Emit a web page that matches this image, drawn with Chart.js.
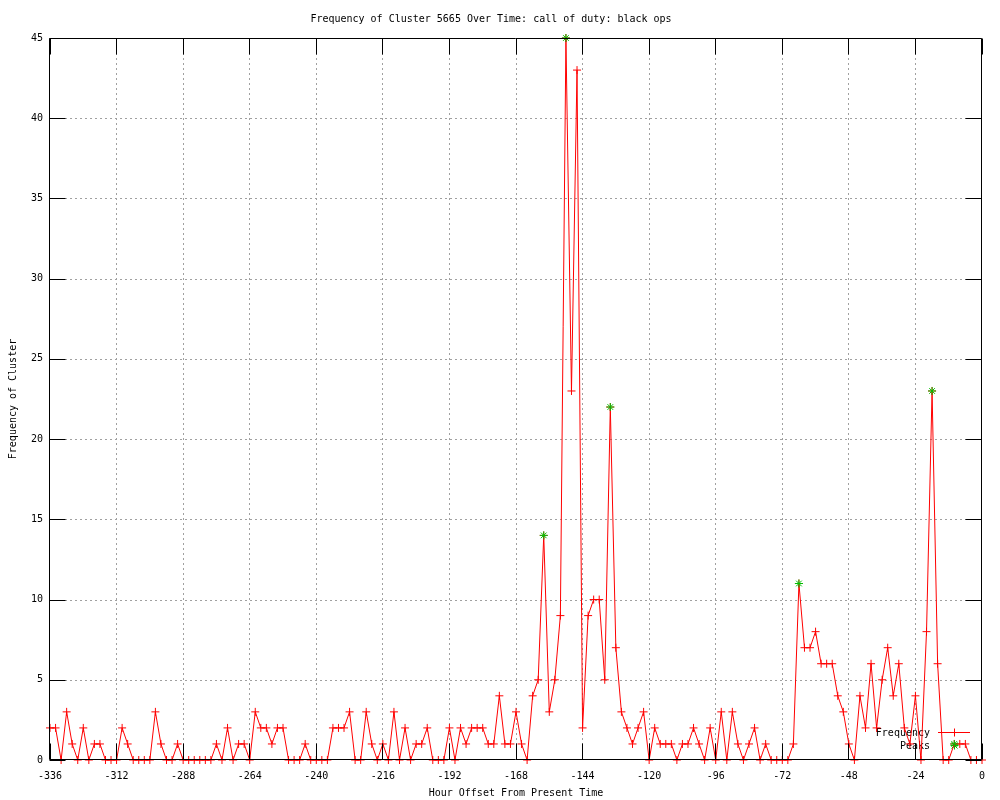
<!DOCTYPE html>
<html><head><meta charset="utf-8">
<script src="https://cdn.jsdelivr.net/npm/chart.js@4"></script>
<style>html,body{margin:0;padding:0;background:#fff}canvas{display:block}</style>
</head><body>
<canvas id="c" width="1000" height="800"></canvas>
<script>
const hours = [
  -336,-334,-332,-330,-328,-326,-324,-322,-320,-318,-316,-314,
  -312,-310,-308,-306,-304,-302,-300,-298,-296,-294,-292,-290,
  -288,-286,-284,-282,-280,-278,-276,-274,-272,-270,-268,-266,
  -264,-262,-260,-258,-256,-254,-252,-250,-248,-246,-244,-242,
  -240,-238,-236,-234,-232,-230,-228,-226,-224,-222,-220,-218,
  -216,-214,-212,-210,-208,-206,-204,-202,-200,-198,-196,-194,
  -192,-190,-188,-186,-184,-182,-180,-178,-176,-174,-172,-170,
  -168,-166,-164,-162,-160,-158,-156,-154,-152,-150,-148,-146,
  -144,-142,-140,-138,-136,-134,-132,-130,-128,-126,-124,-122,
  -120,-118,-116,-114,-112,-110,-108,-106,-104,-102,-100,-98,
  -96,-94,-92,-90,-88,-86,-84,-82,-80,-78,-76,-74,
  -72,-70,-68,-66,-64,-62,-60,-58,-56,-54,-52,-50,
  -48,-46,-44,-42,-40,-38,-36,-34,-32,-30,-28,-26,
  -24,-22,-20,-18,-16,-14,-12,-10,-8,-6,-4,-2,
  0
];
const frequency = [
  2,2,0,3,1,0,2,0,1,1,0,0,
  0,2,1,0,0,0,0,3,1,0,0,1,
  0,0,0,0,0,0,1,0,2,0,1,1,
  0,3,2,2,1,2,2,0,0,0,1,0,
  0,0,0,2,2,2,3,0,0,3,1,0,
  1,0,3,0,2,0,1,1,2,0,0,0,
  2,0,2,1,2,2,2,1,1,4,1,1,
  3,1,0,4,5,14,3,5,9,45,23,43,
  2,9,10,10,5,22,7,3,2,1,2,3,
  0,2,1,1,1,0,1,1,2,1,0,2,
  0,3,0,3,1,0,1,2,0,1,0,0,
  0,0,1,11,7,7,8,6,6,6,4,3,
  1,0,4,2,6,2,5,7,4,6,2,1,
  4,0,8,23,6,0,0,1,1,1,0,0,
  0
];
const peakHours = [-158, -150, -134, -66, -18, -10];
const peakValues = [14, 45, 22, 11, 23, 1];
const xTickValues = [-336,-312,-288,-264,-240,-216,-192,-168,-144,-120,-96,-72,-48,-24,0];
const yTickValues = [0,5,10,15,20,25,30,35,40,45];

const titleText = 'Frequency of Cluster 5665 Over Time: call of duty: black ops';
const xTitle = 'Hour Offset From Present Time';
const yTitle = 'Frequency of Cluster';
const legendLabels = ['Frequency', 'Peaks'];

const RED = '#ff0000';
const GREEN = '#00c000';
const FONT = {family: 'DejaVu Sans Mono', size: 10, weight: 'normal', lineHeight: 1.2};
Chart.defaults.color = '#000';

function cross(ctx, x, y, r) {
  ctx.moveTo(x - r, y); ctx.lineTo(x + r, y);
  ctx.moveTo(x, y - r); ctx.lineTo(x, y + r);
}
function star(ctx, x, y, r) {
  cross(ctx, x, y, r);
  const d = r * 0.75;
  ctx.moveTo(x - d, y - d); ctx.lineTo(x + d, y + d);
  ctx.moveTo(x - d, y + d); ctx.lineTo(x + d, y - d);
}

const framePlugin = {
  id: 'frame',
  beforeDatasetsDraw(chart) {
    const {ctx, chartArea: a, scales: {x, y}} = chart;
    ctx.save();
    ctx.strokeStyle = '#a0a0a0';
    ctx.lineWidth = 1;
    ctx.setLineDash([2, 3]);
    ctx.beginPath();
    xTickValues.forEach(v => {
      if (v === xTickValues[0] || v === xTickValues[xTickValues.length - 1]) return;
      const px = Math.floor(x.getPixelForValue(v)) + 0.5;
      ctx.moveTo(px, a.top); ctx.lineTo(px, a.bottom);
    });
    yTickValues.forEach(v => {
      if (v === yTickValues[0] || v === yTickValues[yTickValues.length - 1]) return;
      const py = Math.round(y.getPixelForValue(v)) + 0.5;
      ctx.moveTo(a.left, py); ctx.lineTo(a.right, py);
    });
    ctx.stroke();
    ctx.setLineDash([]);
    ctx.font = '10px "DejaVu Sans Mono"';
    ctx.fillStyle = '#000';
    ctx.textAlign = 'right';
    ctx.textBaseline = 'middle';
    ctx.fillText(legendLabels[0], 930, 733);
    ctx.fillText(legendLabels[1], 930, 746);
    ctx.strokeStyle = RED;
    ctx.beginPath();
    ctx.moveTo(938, 732.5); ctx.lineTo(970, 732.5);
    cross(ctx, 954.5, 732.5, 4);
    ctx.stroke();
    ctx.strokeStyle = GREEN;
    ctx.beginPath();
    star(ctx, 954.5, 745.5, 4);
    ctx.stroke();
    ctx.restore();
  },
  afterDatasetsDraw(chart) {
    const {ctx, chartArea: a, scales: {x, y}} = chart;
    const L = a.left - 0.5, R = a.right - 0.5, T = a.top + 0.5, B = a.bottom - 0.5;
    const TL = 16;
    ctx.save();
    ctx.strokeStyle = '#000';
    ctx.lineWidth = 1;
    ctx.beginPath();
    ctx.rect(L, T, R - L, B - T);
    xTickValues.forEach(v => {
      const px = Math.floor(x.getPixelForValue(v)) + 0.5;
      ctx.moveTo(px, B); ctx.lineTo(px, B - TL);
      ctx.moveTo(px, T); ctx.lineTo(px, T + TL);
    });
    yTickValues.forEach(v => {
      const py = Math.round(y.getPixelForValue(v)) + 0.5;
      ctx.moveTo(L, py); ctx.lineTo(L + TL, py);
      ctx.moveTo(R, py); ctx.lineTo(R - TL, py);
    });
    ctx.stroke();
    ctx.restore();
  }
};

new Chart(document.getElementById('c').getContext('2d'), {
  type: 'line',
  data: {
    datasets: [
      {
        label: legendLabels[0],
        data: hours.map((h, i) => ({x: h, y: frequency[i]})),
        borderColor: RED,
        backgroundColor: RED,
        borderWidth: 1,
        tension: 0,
        fill: false,
        pointStyle: 'cross',
        pointRadius: 4,
        pointHoverRadius: 4,
        pointBorderWidth: 1,
        pointBorderColor: RED,
        clip: false,
        order: 2
      },
      {
        label: legendLabels[1],
        data: peakHours.map((h, i) => ({x: h, y: peakValues[i]})),
        showLine: false,
        borderColor: GREEN,
        backgroundColor: GREEN,
        pointStyle: 'star',
        pointRadius: 4,
        pointHoverRadius: 4,
        pointBorderWidth: 1,
        pointBorderColor: GREEN,
        clip: false,
        order: 1
      }
    ]
  },
  options: {
    responsive: false,
    animation: false,
    devicePixelRatio: 1,
    events: [],
    layout: {padding: {left: 0, right: 18, top: 0, bottom: 0}},
    plugins: {
      legend: {display: false},
      tooltip: {enabled: false},
      title: {
        display: true,
        text: titleText,
        color: '#000',
        font: FONT,
        padding: {top: 13, bottom: 13}
      }
    },
    scales: {
      x: {
        type: 'linear',
        min: -336,
        max: 0,
        afterBuildTicks: s => { s.ticks = xTickValues.map(v => ({value: v})); },
        afterFit: s => { s.height = 40; },
        grid: {display: false, drawTicks: false},
        border: {display: false},
        ticks: {color: '#000', font: FONT, padding: 10, maxRotation: 0, autoSkip: false},
        title: {display: true, text: xTitle, color: '#000', font: FONT, padding: {top: 0, bottom: 1}}
      },
      y: {
        type: 'linear',
        min: 0,
        max: 45,
        afterBuildTicks: s => { s.ticks = yTickValues.map(v => ({value: v})); },
        afterFit: s => { s.width = 50; },
        grid: {display: false, drawTicks: false},
        border: {display: false},
        ticks: {color: '#000', font: FONT, padding: 7, autoSkip: false},
        title: {display: true, text: yTitle, color: '#000', font: FONT, padding: {top: 7, bottom: 0}}
      }
    }
  },
  plugins: [framePlugin]
});
</script>
</body></html>
